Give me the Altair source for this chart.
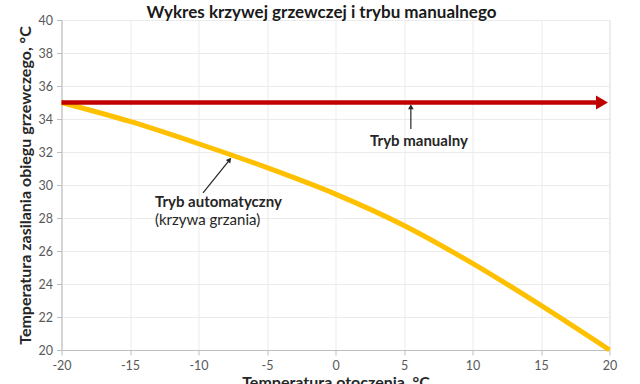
import altair as alt
import pandas as pd

# Heating curve (automatic mode)
ambient_temp = [-20, -15, -10, -5, 0, 5, 10, 15, 20]
supply_temp_auto = [35.0, 33.85, 32.5, 31.05, 29.45, 27.55, 25.25, 22.7, 20.0]

# Manual mode (constant supply temperature)
manual_x = [-20, 19.45]
manual_y = [35, 35]

x_ticks = [-20, -15, -10, -5, 0, 5, 10, 15, 20]
y_ticks = [20, 22, 24, 26, 28, 30, 32, 34, 36, 38, 40]

# Annotation texts and anchor points
ann_text = ["Tryb manualny", "Tryb automatyczny", "(krzywa grzania)"]
ann_x = [6.09, -13.18, -13.18]
ann_y = [32.67, 28.97, 27.88]
ann_weight = ["bold", "bold", "normal"]
ann_align = ["center", "left", "left"]

# Annotation arrows (shaft start -> head centre)
arr_x1 = [5.5, -9.67]
arr_y1 = [33.39, 29.52]
arr_x2 = [5.5, -7.73]
arr_y2 = [34.74, 31.53]
arr_angle = [0, 39]

FONT = "Lato"
xs = alt.Scale(domain=[-20, 20], nice=False)
ys = alt.Scale(domain=[20, 40], nice=False)

common = dict(grid=True, gridColor="#EBEBEB", domainColor="#BFBFBF",
              tickColor="#BFBFBF", tickSize=5, labelFont=FONT, labelFontSize=12.5,
              labelColor="#595959", titleFont=FONT, titleFontSize=16,
              titleFontWeight="bold", titleColor="#262626", labelFlush=False,
              labelOverlap=False, labelExpr="toString(datum.value)")

x_axis = alt.Axis(values=x_ticks, title="Temperatura otoczenia, °C",
                  labelPadding=4, titlePadding=3, **common)
y_axis = alt.Axis(values=y_ticks, title="Temperatura zasilania obiegu grzewczego, °C",
                  labelPadding=4, titlePadding=5, **common)


def X(field):
    return alt.X(field, scale=xs, axis=x_axis)


def Y(field):
    return alt.Y(field, scale=ys, axis=y_axis)


auto_df = pd.DataFrame({"x": ambient_temp, "y": supply_temp_auto})
manual_df = pd.DataFrame({"x": manual_x, "y": manual_y})
head_df = pd.DataFrame({"x": [manual_x[-1]], "y": [manual_y[-1]]})
ann_df = pd.DataFrame({"t": ann_text, "x": ann_x, "y": ann_y})
arr_df = pd.DataFrame({"x1": arr_x1, "y1": arr_y1, "x2": arr_x2, "y2": arr_y2,
                       "a": arr_angle})

auto_line = alt.Chart(auto_df).mark_line(
    color="#FFC000", strokeWidth=5, interpolate="monotone"
).encode(x=X("x:Q"), y=Y("y:Q"))

manual_line = alt.Chart(manual_df).mark_line(color="#C00000", strokeWidth=4.5).encode(
    x=X("x:Q"), y=Y("y:Q"))

manual_head = alt.Chart(head_df).mark_point(
    shape="triangle-right", filled=True, size=190, color="#C00000", opacity=1
).encode(x=X("x:Q"), y=Y("y:Q"))

arrow_shafts = alt.Chart(arr_df).mark_rule(color="#262626", strokeWidth=1.2).encode(
    x=X("x1:Q"), y=Y("y1:Q"), x2="x2:Q", y2="y2:Q")

arrow_heads = alt.Chart(arr_df).mark_point(
    shape="triangle-up", filled=True, size=32, color="#262626", opacity=1
).encode(x=X("x2:Q"), y=Y("y2:Q"), angle=alt.Angle("a:Q", scale=None))

texts = []
for i in range(len(ann_text)):
    texts.append(
        alt.Chart(ann_df.iloc[[i]]).mark_text(
            font=FONT, fontSize=15, fontWeight=ann_weight[i], align=ann_align[i],
            baseline="middle", color="#262626"
        ).encode(x=X("x:Q"), y=Y("y:Q"), text="t:N")
    )

chart = alt.layer(auto_line, manual_line, manual_head, arrow_shafts, arrow_heads,
                  *texts).properties(
    width=548, height=330,
    title=alt.TitleParams("Wykres krzywej grzewczej i trybu manualnego", font=FONT,
                          fontSize=17, fontWeight="bold", color="#1a1a1a",
                          anchor="middle", dx=-14, offset=-8),
    autosize=alt.AutoSizeParams(type="none"),
    padding={"left": 61.5, "top": 20, "right": 30.5, "bottom": 34},
).configure_view(stroke=None).configure(background="white")

chart.save("out.html", embed_options={"renderer": "svg", "actions": False})
